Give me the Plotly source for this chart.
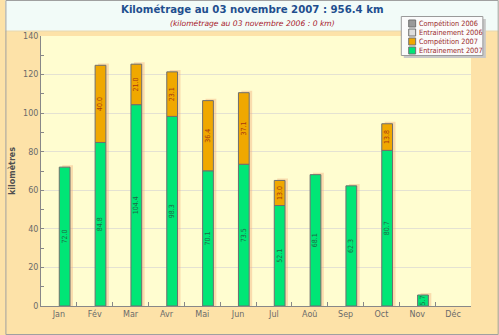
import plotly.graph_objects as go

# Monthly distances (km)
mois = ["Jan", "Fév", "Mar", "Avr", "Mai", "Jun", "Jul", "Aoû", "Sep", "Oct", "Nov", "Déc"]
entrainement_2007 = [72.0, 84.8, 104.4, 98.3, 70.1, 73.5, 52.1, 68.1, 62.3, 80.7, 5.7, None]
competition_2007 = [None, 40.0, 21.0, 23.1, 36.4, 37.1, 13.0, None, None, 13.8, None, None]
entrainement_2006 = [None] * 12
competition_2006 = [None] * 12

legend_labels = ["Compétition 2006", "Entrainement 2006", "Compétition 2007", "Entrainement 2007"]
legend_colors = ["#9a9a9a", "#dedede", "#f0a800", "#00e676"]

W, H = 499, 335
L, R, T, B = 36, 28, 36, 29
PW, PH = W - L - R, H - T - B

def xp(px):
    return (px - L) / PW

def yp(py):
    return (H - B - py) / PH

FONT = "DejaVu Sans"
FONT_C = "DejaVu Sans Condensed, DejaVu Sans"
GREEN = "#00e676"
ORANGE = "#f0a800"
OUTLINE = "#6e6e6e"
BAR_W = 0.30
BAR_OFF = 0.01
SHADOW_DX = 3 / (PW / 12)

totals = []
for e, c in zip(entrainement_2007, competition_2007):
    t = (e or 0) + (c or 0)
    totals.append(t + 1.0 if t > 0 else None)

fig = go.Figure()

# soft drop shadow behind each stacked bar
fig.add_trace(go.Bar(
    x=mois, y=totals, base=0,
    width=BAR_W, offset=BAR_OFF + SHADOW_DX,
    marker=dict(color="rgba(240,170,120,0.40)", line=dict(width=0)),
    hoverinfo="skip", showlegend=False,
))

# 2006 series (empty), placed left of the 2007 stack
fig.add_trace(go.Bar(x=mois, y=entrainement_2006, width=BAR_W, offset=BAR_OFF - BAR_W,
                     marker=dict(color=legend_colors[1], line=dict(color=OUTLINE, width=1)),
                     name=legend_labels[1], showlegend=False))
fig.add_trace(go.Bar(x=mois, y=competition_2006, width=BAR_W, offset=BAR_OFF - BAR_W,
                     marker=dict(color=legend_colors[0], line=dict(color=OUTLINE, width=1)),
                     name=legend_labels[0], showlegend=False))

fig.add_trace(go.Bar(
    x=mois, y=entrainement_2007, base=0,
    width=BAR_W, offset=BAR_OFF,
    marker=dict(color=GREEN, line=dict(color=OUTLINE, width=1)),
    texttemplate="%{y:.1f}", textposition="inside", insidetextanchor="middle",
    textangle=-90, constraintext="none",
    textfont=dict(family=FONT_C, size=7, color="#1d6b45"),
    name=legend_labels[3], showlegend=False,
))

base_comp = [e if e is not None else 0 for e in entrainement_2007]
fig.add_trace(go.Bar(
    x=mois, y=competition_2007, base=base_comp,
    width=BAR_W, offset=BAR_OFF,
    marker=dict(color=ORANGE, line=dict(color=OUTLINE, width=1)),
    texttemplate="%{y:.1f}", textposition="inside", insidetextanchor="middle",
    textangle=-90, constraintext="none",
    textfont=dict(family=FONT_C, size=7, color="#a83a10"),
    name=legend_labels[2], showlegend=False,
))

shapes = [
    # header band
    dict(type="rect", xref="paper", yref="paper", x0=xp(0), x1=xp(W), y0=yp(31), y1=yp(0),
         fillcolor="#f2fbf8", line=dict(width=0), layer="below"),
    dict(type="line", xref="paper", yref="paper", x0=xp(0), x1=xp(W), y0=yp(31), y1=yp(31),
         line=dict(color="#e8d8b0", width=1)),
    # outer frame
    dict(type="rect", xref="paper", yref="paper", x0=xp(0.5), x1=xp(W - 0.5), y0=yp(H - 0.5), y1=yp(0.5),
         line=dict(color="#a0a0a0", width=1)),
    # legend box shadow + box
    dict(type="rect", xref="paper", yref="paper", x0=xp(403), x1=xp(486), y0=yp(58), y1=yp(19),
         fillcolor="#c8c8c8", line=dict(width=0)),
    dict(type="rect", xref="paper", yref="paper", x0=xp(400.5), x1=xp(483), y0=yp(55.5), y1=yp(16.5),
         fillcolor="#fbfbfb", line=dict(color="#9a9a9a", width=1)),
]

annotations = [
    dict(text="<b>Kilométrage au 03 novembre 2007 : 956.4 km</b>", xref="paper", yref="paper",
         x=xp(249.5), y=yp(10), xanchor="center", yanchor="middle", showarrow=False,
         font=dict(family=FONT_C, size=11.3, color="#1f4f8f")),
    dict(text="<i>(kilométrage au 03 novembre 2006 : 0 km)</i>", xref="paper", yref="paper",
         x=xp(249.5), y=yp(23.5), xanchor="center", yanchor="middle", showarrow=False,
         font=dict(family=FONT, size=7.6, color="#a8202a")),
]

rows = [23.5, 32.5, 41.5, 50.5]
for label, color, ry in zip(legend_labels, legend_colors, rows):
    shapes.append(dict(type="rect", xref="paper", yref="paper",
                       x0=xp(408), x1=xp(415), y0=yp(ry + 3.5), y1=yp(ry - 3.5),
                       fillcolor=color, line=dict(color="#707070", width=1)))
    annotations.append(dict(text=label, xref="paper", yref="paper", x=xp(416.5), y=yp(ry),
                            xanchor="left", yanchor="middle", showarrow=False,
                            font=dict(family=FONT_C, size=7.3, color="#9a2a2a")))

fig.update_layout(
    width=W, height=H,
    margin=dict(l=L, r=R, t=T, b=B, pad=0),
    barmode="overlay",
    paper_bgcolor="#fde2a8",
    plot_bgcolor="#fffdd0",
    showlegend=False,
    shapes=shapes,
    annotations=annotations,
    font=dict(family=FONT, size=8, color="#6a6a6a"),
)

fig.update_xaxes(
    type="category", categoryorder="array", categoryarray=mois,
    range=[-0.5, 11.5],
    showgrid=False, zeroline=False,
    showline=True, linecolor="#888888", linewidth=1,
    ticks="inside", ticklen=4, tickcolor="#888888", tickson="boundaries",
    tickfont=dict(family=FONT, size=8, color="#6a6a6a"),
)

fig.update_yaxes(
    range=[0, 140], dtick=20, tick0=0,
    showgrid=True, gridcolor="#e4e2d2", gridwidth=1, zeroline=False,
    showline=True, linecolor="#888888", linewidth=1,
    ticks="inside", ticklen=3, tickcolor="#888888",
    minor=dict(dtick=10, ticks="inside", ticklen=3, tickcolor="#888888", showgrid=False),
    tickfont=dict(family=FONT, size=8, color="#6a6a6a"),
    title=dict(text="<b>kilomètres</b>", font=dict(family=FONT, size=8, color="#505050"), standoff=6),
)

fig.write_html("out.html")
